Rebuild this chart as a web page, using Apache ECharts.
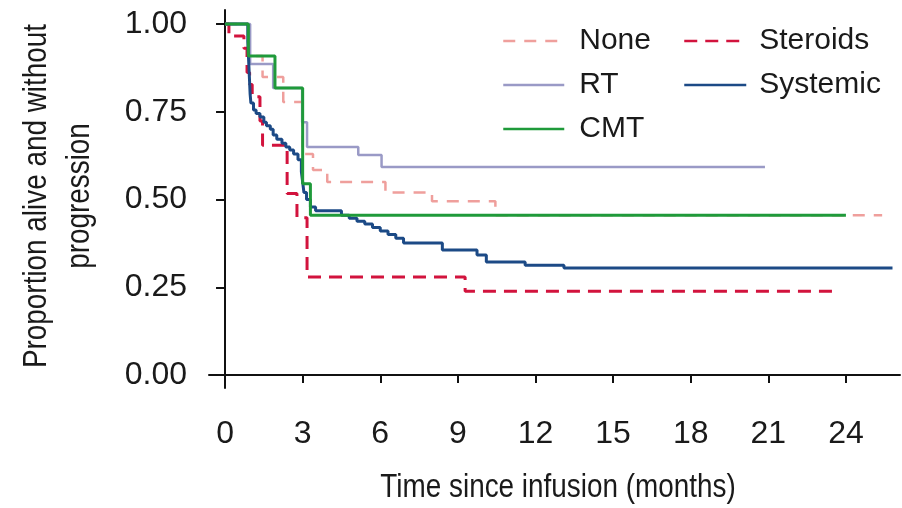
<!DOCTYPE html>
<html>
<head>
<meta charset="utf-8">
<title>Progression-free survival by bridging therapy</title>
<script src="https://cdn.jsdelivr.net/npm/echarts@6/dist/echarts.min.js"></script>
<style>
  html, body { margin: 0; padding: 0; background: #ffffff; }
  #chart { width: 902px; height: 508px; }
</style>
</head>
<body>
<div id="chart"></div>
<script>
// Kaplan-Meier step curves: each time is where the curve steps to the paired value.
const noneTime = [0, 0.9, 1.45, 2.25, 3.0, 3.4, 3.95, 6.2, 8.0, 10.45, 25.4];
const noneSurv = [1, 0.909, 0.849, 0.778, 0.63, 0.584, 0.55, 0.52, 0.495, 0.455, 0.455];

const rtTime = [0, 0.97, 1.86, 2.98, 3.17, 5.15, 6.05, 20.87];
const rtSurv = [1, 0.886, 0.818, 0.72, 0.65, 0.627, 0.593, 0.593];

const steroidsTime = [0, 0.15, 0.73, 0.85, 0.95, 1.05, 1.35, 1.45, 2.4, 2.78, 3.17, 9.28, 23.5];
const steroidsSurv = [1, 0.966, 0.931, 0.862, 0.828, 0.793, 0.724, 0.655, 0.517, 0.448, 0.279, 0.239, 0.239];

const systemicTime = [0, 0.88, 0.91, 0.94, 0.97, 1.0, 1.1, 1.2, 1.35, 1.5, 1.6, 1.75, 1.86, 2.0, 2.2,
  2.35, 2.5, 2.65, 2.82, 2.95, 3.0, 3.05, 3.15, 3.3, 3.5, 4.5, 4.8, 5.1, 5.4, 5.7, 6.0, 6.3, 6.6,
  6.9, 8.4, 9.74, 10.1, 11.6, 13.1, 25.8];
const systemicSurv = [1, 0.95, 0.9, 0.85, 0.8, 0.775, 0.755, 0.745, 0.735, 0.72, 0.71, 0.7, 0.684, 0.672, 0.66,
  0.65, 0.641, 0.63, 0.613, 0.58, 0.55, 0.52, 0.5, 0.479, 0.468, 0.455, 0.447, 0.438, 0.43, 0.42, 0.41, 0.4, 0.39,
  0.376, 0.356, 0.342, 0.322, 0.313, 0.305, 0.305];

const cmtTime = [0, 0.9, 1.93, 3.0, 3.3, 24.0];
const cmtSurv = [1, 0.909, 0.818, 0.545, 0.455, 0.455];

const xTicks = [0, 3, 6, 9, 12, 15, 18, 21, 24];
const yTicks = [0, 0.25, 0.5, 0.75, 1];

const xTitle = 'Time since infusion (months)';
const yTitle = 'Proportion alive and without\nprogression';

const pairs = (t, s) => t.map((v, i) => [v, s[i]]);

const labelFont = "'Liberation Sans', Arial, sans-serif";
// Axis titles use a condensed sans: the regular face squeezed horizontally.
const titleFont = "'Liberation Sans', Arial, sans-serif";
const titleSqueeze = 0.82;

function km(name, t, s, color, width, type) {
  return {
    name: name,
    type: 'line',
    step: 'end',
    data: pairs(t, s),
    symbol: 'none',
    showSymbol: false,
    animation: false,
    lineStyle: { color: color, width: width, type: type },
    itemStyle: { color: color }
  };
}

const hiddenMarker = { color: 'rgba(0,0,0,0)', borderColor: 'rgba(0,0,0,0)', borderWidth: 0, opacity: 0 };

const chart = echarts.init(document.getElementById('chart'), null, { renderer: 'canvas' });

chart.setOption({
  backgroundColor: '#ffffff',
  animation: false,
  grid: { left: 209, right: 2, top: 10, bottom: 120, containLabel: false },
  xAxis: {
    type: 'value',
    min: -0.62,
    max: 26.09,
    axisLine: { show: true, lineStyle: { color: '#111', width: 2 } },
    axisTick: { show: true, customValues: xTicks, length: 8, lineStyle: { color: '#111', width: 2 } },
    axisLabel: {
      customValues: xTicks,
      margin: 30,
      color: '#1a1a1a',
      fontFamily: labelFont,
      fontSize: 32,
      lineHeight: 32
    },
    splitLine: { show: false }
  },
  yAxis: {
    type: 'value',
    min: -0.037,
    max: 1.04,
    axisLine: { show: true, lineStyle: { color: '#111', width: 2 } },
    axisTick: { show: true, customValues: yTicks, length: 9, lineStyle: { color: '#111', width: 2 } },
    axisLabel: {
      customValues: yTicks,
      margin: 22,
      color: '#1a1a1a',
      fontFamily: labelFont,
      fontSize: 32,
      formatter: v => v.toFixed(2)
    },
    splitLine: { show: false }
  },
  legend: [
    {
      data: ['None', 'RT', 'CMT'],
      orient: 'vertical',
      left: 502,
      top: 26,
      padding: 0,
      itemWidth: 61,
      itemHeight: 14,
      itemGap: 14,
      selectedMode: false,
      itemStyle: hiddenMarker,
      lineStyle: { width: 2.5 },
      textStyle: { fontFamily: labelFont, fontSize: 30, lineHeight: 30, color: '#1a1a1a', padding: [0, 0, 0, 10] }
    },
    {
      data: ['Steroids', 'Systemic'],
      orient: 'vertical',
      left: 683,
      top: 26,
      padding: 0,
      itemWidth: 62,
      itemHeight: 14,
      itemGap: 14,
      selectedMode: false,
      itemStyle: hiddenMarker,
      lineStyle: { width: 2.5 },
      textStyle: { fontFamily: labelFont, fontSize: 30, lineHeight: 30, color: '#1a1a1a', padding: [0, 0, 0, 8] }
    }
  ],
  graphic: [
    {
      type: 'text',
      x: 558,
      y: 488,
      scaleX: titleSqueeze,
      style: {
        text: xTitle,
        fontFamily: titleFont,
        fontSize: 34,
        fill: '#1a1a1a',
        align: 'center',
        verticalAlign: 'middle'
      }
    },
    {
      type: 'text',
      x: 58,
      y: 196,
      rotation: Math.PI / 2,
      scaleX: titleSqueeze,
      style: {
        text: yTitle,
        fontFamily: titleFont,
        fontSize: 34,
        lineHeight: 43,
        fill: '#1a1a1a',
        align: 'center',
        verticalAlign: 'middle'
      }
    }
  ],
  series: [
    km('None', noneTime, noneSurv, '#ef9f9c', 2.5, [12, 9]),
    km('RT', rtTime, rtSurv, '#9a9ac6', 2.5, 'solid'),
    km('Steroids', steroidsTime, steroidsSurv, '#d2133d', 3, [13, 8]),
    km('Systemic', systemicTime, systemicSurv, '#1c4a86', 3, 'solid'),
    km('CMT', cmtTime, cmtSurv, '#1f9a3a', 3, 'solid')
  ]
});
</script>
</body>
</html>
